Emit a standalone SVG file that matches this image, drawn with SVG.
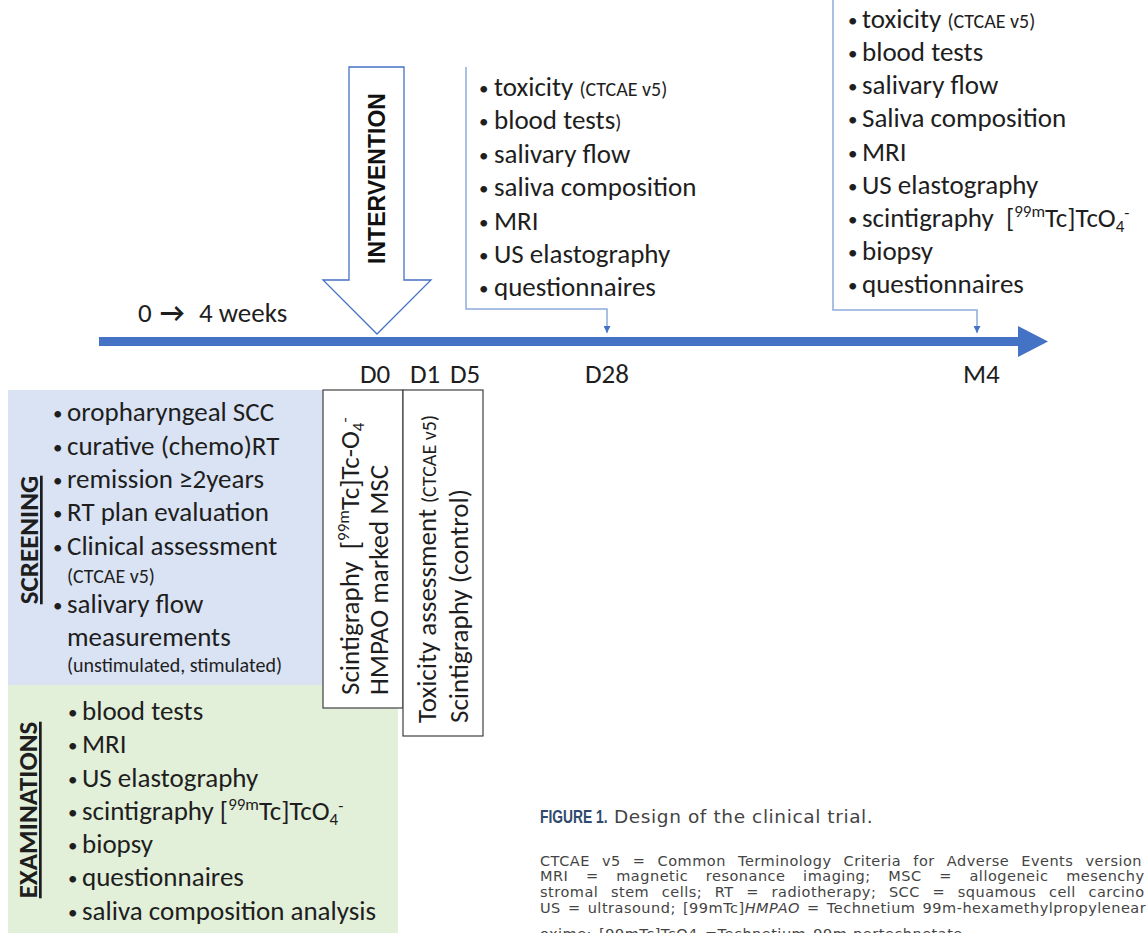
<svg xmlns="http://www.w3.org/2000/svg" width="1146" height="933" viewBox="0 0 1146 933">
<style>
.t{font-family:Carlito,Lato,"Open Sans",sans-serif;font-size:27px;fill:#1e1e1e}
.s{font-size:20px}
.u{font-size:17px}
.b{font-size:19px}
.lbl{font-family:Carlito,Lato,"Open Sans",sans-serif;font-size:27px;fill:#1e1e1e}
.hdr{font-family:Carlito,Lato,sans-serif;font-size:27px;font-weight:bold;fill:#1e1e1e;text-decoration:underline}
.box{fill:#fff;stroke:#404040;stroke-width:1.2}
.brk{fill:none;stroke:#8faadc;stroke-width:1.5}
.cap{font-family:"DejaVu Sans",Verdana,sans-serif;font-size:14.5px;letter-spacing:0.5px;fill:#444}
</style>
<defs>
<marker id="ah" viewBox="0 0 10 10" refX="10" refY="5" markerWidth="7" markerHeight="7" markerUnits="userSpaceOnUse" orient="auto"><path d="M0,0L10,5L0,10z" fill="#4472c4"/></marker>
</defs>
<rect width="1146" height="933" fill="#fff"/>

<g id="screening">
<rect x="8" y="390" width="315" height="295" fill="#dae3f3"/>
<text class="hdr" transform="translate(38,540) rotate(-90)" text-anchor="middle">SCREENING</text>
<g class="t">
<text class="b" x="53" y="420">•</text><text x="67" y="421">oropharyngeal SCC</text>
<text class="b" x="53" y="454">•</text><text x="67" y="455">curative (chemo)RT</text>
<text class="b" x="53" y="487">•</text><text x="67" y="488">remission ≥2years</text>
<text class="b" x="53" y="520">•</text><text x="67" y="521">RT plan evaluation</text>
<text class="b" x="53" y="554">•</text><text x="67" y="555">Clinical assessment</text>
<text x="67" y="583" class="s">(CTCAE v5)</text>
<text class="b" x="53" y="612">•</text><text x="67" y="613">salivary flow</text>
<text x="67" y="646">measurements</text>
<text x="67" y="672" class="s">(unstimulated, stimulated)</text>
</g>
</g>

<g id="examinations">
<rect x="8" y="685" width="390" height="248" fill="#e2efd9"/>
<text class="hdr" transform="translate(37,810) rotate(-90)" text-anchor="middle">EXAMINATIONS</text>
<g class="t">
<text class="b" x="68" y="719">•</text><text x="82" y="720">blood tests</text>
<text class="b" x="68" y="752">•</text><text x="82" y="753">MRI</text>
<text class="b" x="68" y="786">•</text><text x="82" y="787">US elastography</text>
<text class="b" x="68" y="819">•</text><text x="82" y="820">scintigraphy [<tspan class="u" dy="-10">99m</tspan><tspan dy="10">Tc]TcO</tspan><tspan class="u" dy="5">4</tspan><tspan class="u" dy="-14">-</tspan></text>
<text class="b" x="68" y="852">•</text><text x="82" y="853">biopsy</text>
<text class="b" x="68" y="885">•</text><text x="82" y="886">questionnaires</text>
<text class="b" x="68" y="919">•</text><text x="82" y="920">saliva composition analysis</text>
</g>
</g>

<g id="d0-box">
<rect class="box" x="323" y="390" width="80" height="318"/>
<text class="t" transform="translate(359,695) rotate(-90)">Scintigraphy&#160; [<tspan class="u" dy="-10">99m</tspan><tspan dy="10">Tc]Tc-O</tspan><tspan class="u" dy="5">4</tspan><tspan class="u" dy="-14">-</tspan></text>
<text class="t" transform="translate(388,695) rotate(-90)">HMPAO marked MSC</text>
</g>

<g id="d1-d5-box">
<rect class="box" x="403" y="390" width="80" height="346"/>
<text class="t" transform="translate(436,723) rotate(-90)">Toxicity assessment <tspan class="s">(CTCAE v5)</tspan></text>
<text class="t" transform="translate(468,723) rotate(-90)">Scintigraphy (control)</text>
</g>

<g id="timeline">
<rect x="99" y="337" width="920" height="9" fill="#4472c4"/>
<path d="M1018,326L1048,341.5L1018,357z" fill="#4472c4"/>
<text class="lbl" y="322"><tspan x="138">0</tspan><tspan x="160" style="font-weight:bold">→</tspan><tspan x="199">4 weeks</tspan></text>
<text class="lbl" x="360" y="383">D0</text>
<text class="lbl" x="410" y="383">D1</text>
<text class="lbl" x="450" y="383">D5</text>
<text class="lbl" x="585" y="383">D28</text>
<text class="lbl" x="963" y="383">M4</text>
</g>

<g id="intervention">
<path d="M349,67H404V280H431L377,334L323,280H349Z" fill="#fff" stroke="#4472c4" stroke-width="1.3"/>
<text transform="translate(385,178.5) rotate(-90)" text-anchor="middle" style="font-family:'Liberation Sans',Arial,sans-serif;font-size:23px;font-weight:bold;fill:#111">INTERVENTION</text>
</g>

<g id="d28-list" class="t">
<text class="b" x="479" y="95">•</text><text x="494" y="96">toxicity <tspan class="s">(CTCAE v5)</tspan></text>
<text class="b" x="479" y="128">•</text><text x="494" y="129">blood tests<tspan class="s">)</tspan></text>
<text class="b" x="479" y="162">•</text><text x="494" y="163">salivary flow</text>
<text class="b" x="479" y="195">•</text><text x="494" y="196">saliva composition</text>
<text class="b" x="479" y="229">•</text><text x="494" y="230">MRI</text>
<text class="b" x="479" y="262">•</text><text x="494" y="263">US elastography</text>
<text class="b" x="479" y="295">•</text><text x="494" y="296">questionnaires</text>
</g>

<g id="m4-list" class="t">
<text class="b" x="848" y="27">•</text><text x="862" y="28">toxicity <tspan class="s">(CTCAE v5)</tspan></text>
<text class="b" x="848" y="60">•</text><text x="862" y="61">blood tests</text>
<text class="b" x="848" y="93">•</text><text x="862" y="94">salivary flow</text>
<text class="b" x="848" y="126">•</text><text x="862" y="127">Saliva composition</text>
<text class="b" x="848" y="160">•</text><text x="862" y="161">MRI</text>
<text class="b" x="848" y="193">•</text><text x="862" y="194">US elastography</text>
<text class="b" x="848" y="226">•</text><text x="862" y="227">scintigraphy&#160; [<tspan class="u" dy="-10">99m</tspan><tspan dy="10">Tc]TcO</tspan><tspan class="u" dy="5">4</tspan><tspan class="u" dy="-14">-</tspan></text>
<text class="b" x="848" y="259">•</text><text x="862" y="260">biopsy</text>
<text class="b" x="848" y="292">•</text><text x="862" y="293">questionnaires</text>
</g>

<g id="connectors">
<path class="brk" d="M466,67V309H607V333" marker-end="url(#ah)"/>
<path class="brk" d="M833,0V310H977V333" marker-end="url(#ah)"/>
</g>

<g id="caption">
<text transform="translate(540,823) scale(0.79,1)" style="font-family:'Liberation Sans',Arial,sans-serif;font-size:17.5px;font-weight:bold;fill:#2f4a6d">FIGURE 1.</text>
<text x="614" y="823" style="font-family:'DejaVu Sans',Verdana,sans-serif;font-size:18.5px;letter-spacing:0.6px;fill:#444">Design of the clinical trial.</text>
<text class="cap" x="540" y="866" style="word-spacing:7px">CTCAE v5 = Common Terminology Criteria for Adverse Events version</text>
<text class="cap" x="540" y="881" style="word-spacing:12.5px">MRI = magnetic resonance imaging; MSC = allogeneic mesenchy</text>
<text class="cap" x="540" y="897" style="word-spacing:7.5px">stromal stem cells; RT = radiotherapy; SCC = squamous cell carcino</text>
<text class="cap" x="540" y="913" style="word-spacing:2px">US = ultrasound; [99mTc]<tspan font-style="italic">HMPAO</tspan> = Technetium 99m-hexamethylpropylenear</text>
<text class="cap" x="540" y="939" style="word-spacing:2px">oxime; [99mTc]TcO4 =Technetium 99m-pertechnetate</text>
</g>
</svg>
